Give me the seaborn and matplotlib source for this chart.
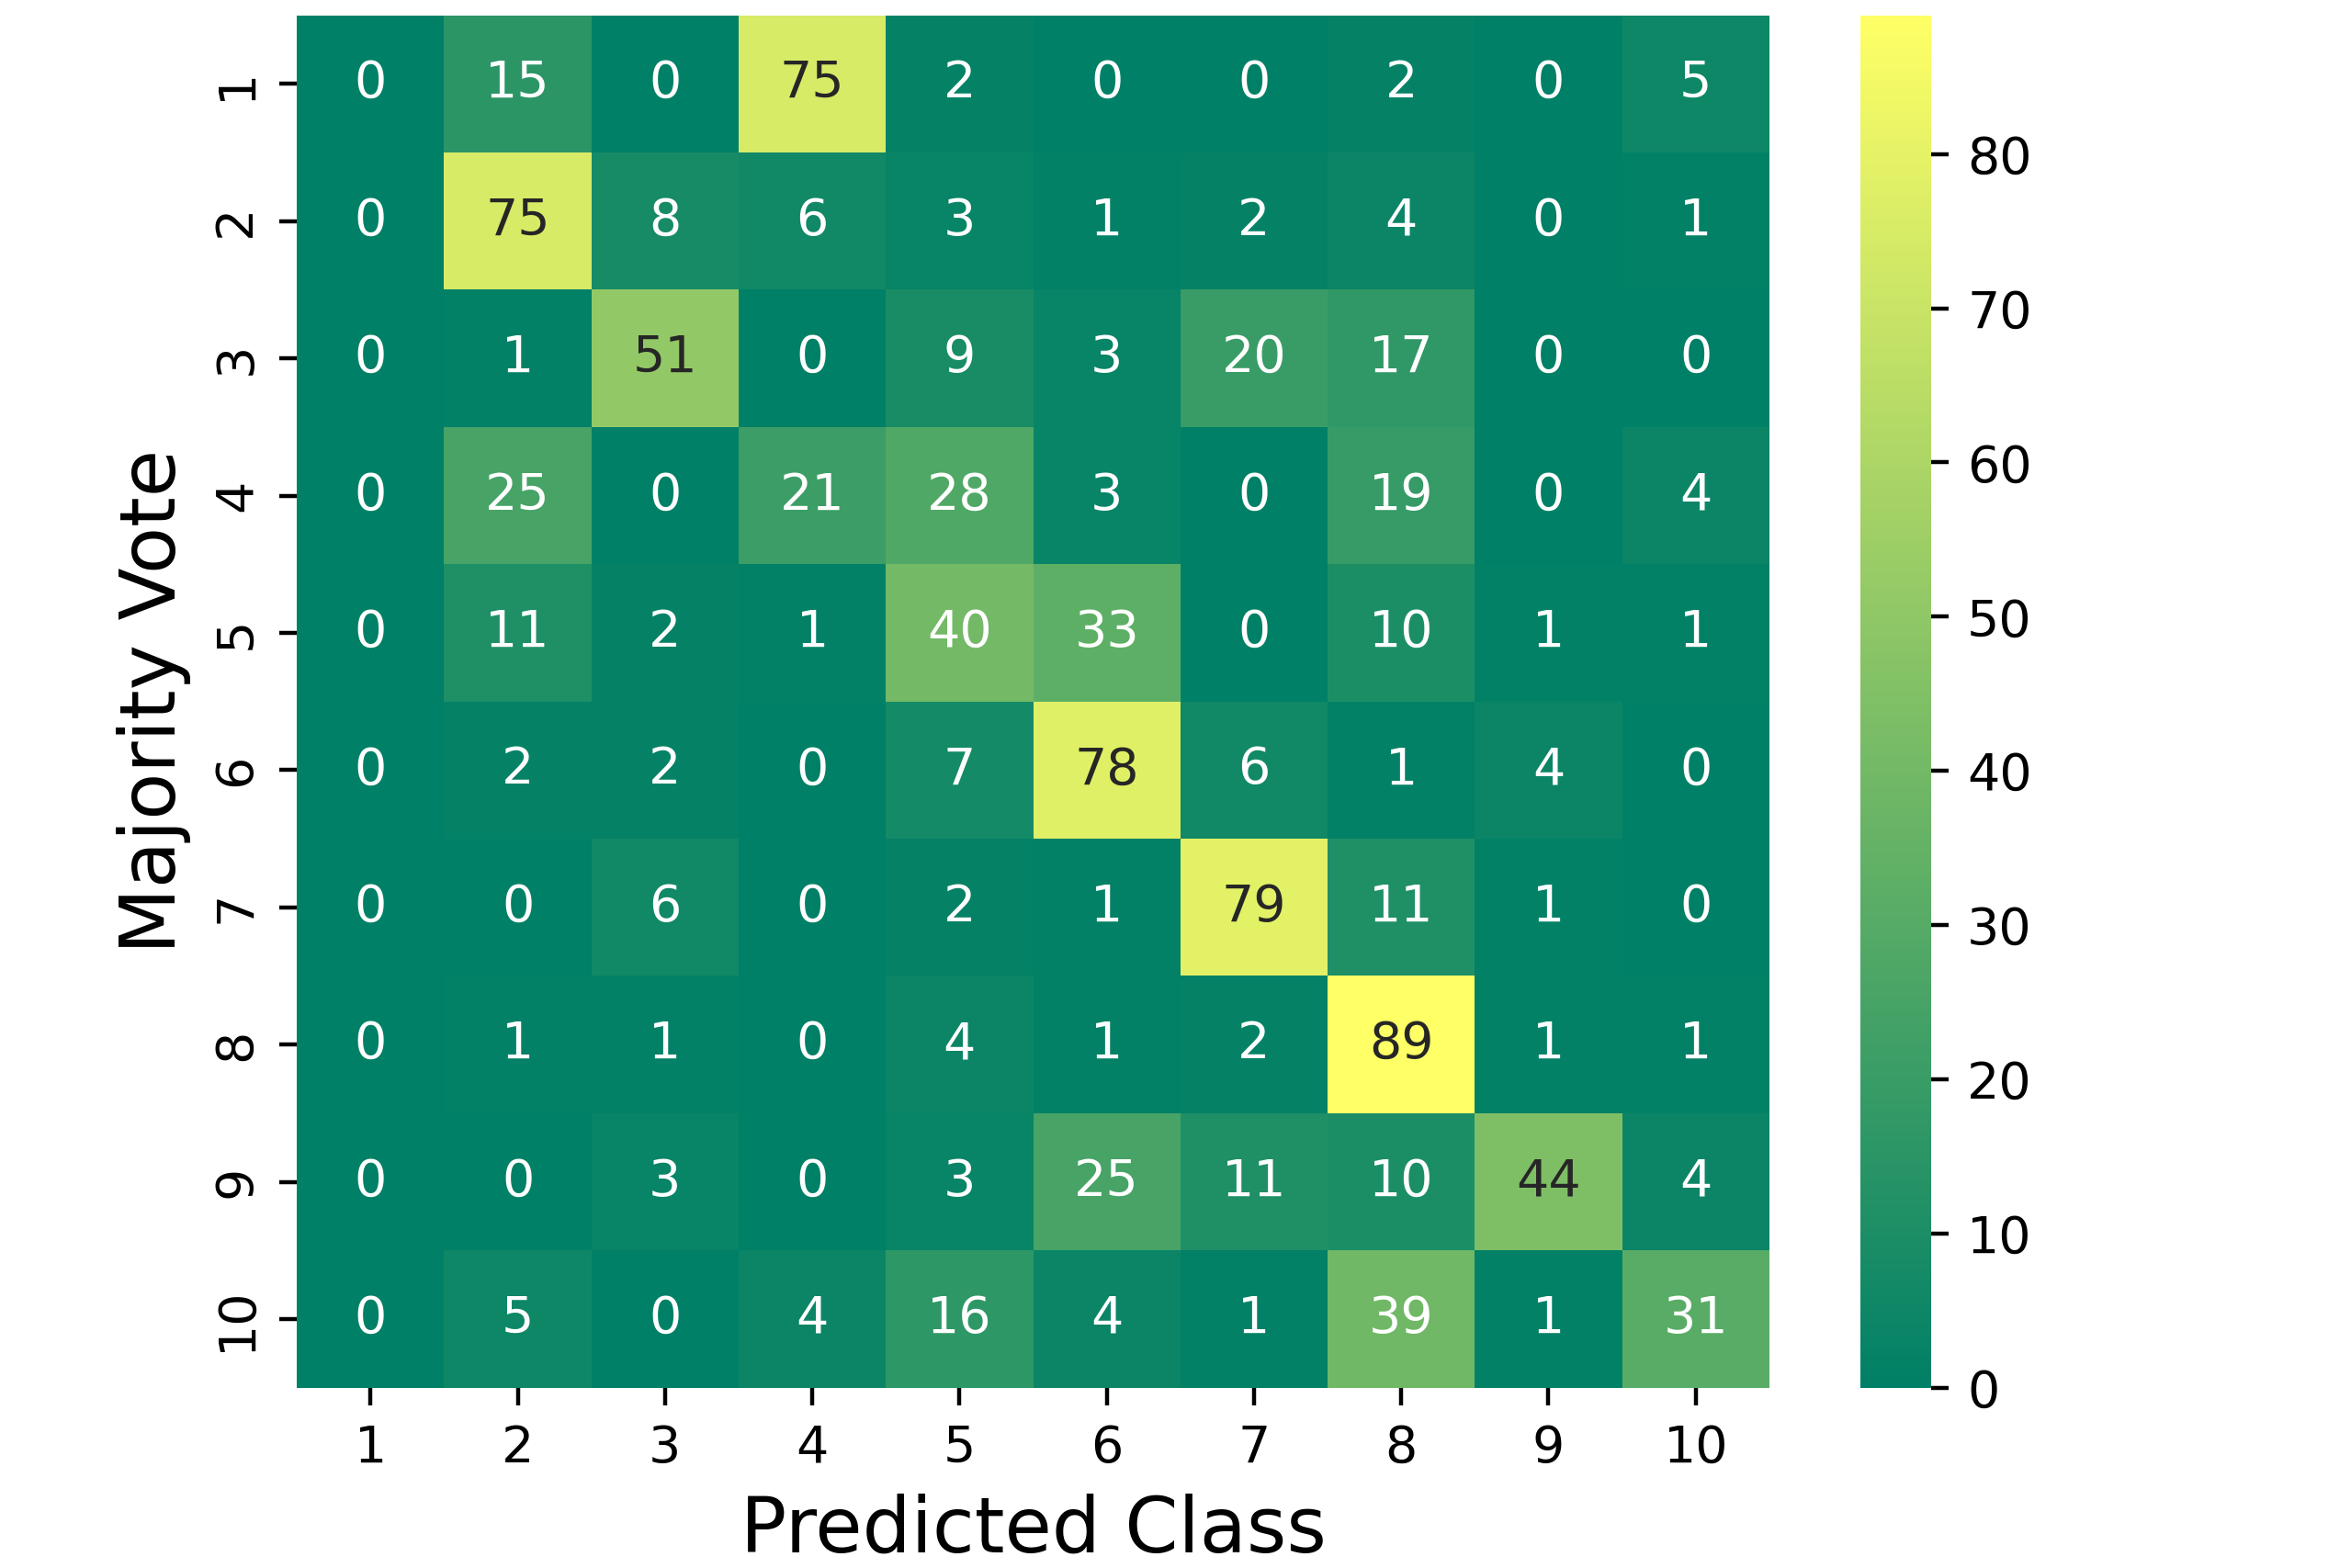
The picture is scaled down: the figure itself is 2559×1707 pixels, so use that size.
import matplotlib
matplotlib.use("Agg")
import matplotlib.pyplot as plt
import numpy as np
import pandas as pd
import seaborn as sns

# class labels
classes = ["1", "2", "3", "4", "5", "6", "7", "8", "9", "10"]

# rows = majority vote, columns = predicted class
row_1 = [0, 15, 0, 75, 2, 0, 0, 2, 0, 5]
row_2 = [0, 75, 8, 6, 3, 1, 2, 4, 0, 1]
row_3 = [0, 1, 51, 0, 9, 3, 20, 17, 0, 0]
row_4 = [0, 25, 0, 21, 28, 3, 0, 19, 0, 4]
row_5 = [0, 11, 2, 1, 40, 33, 0, 10, 1, 1]
row_6 = [0, 2, 2, 0, 7, 78, 6, 1, 4, 0]
row_7 = [0, 0, 6, 0, 2, 1, 79, 11, 1, 0]
row_8 = [0, 1, 1, 0, 4, 1, 2, 89, 1, 1]
row_9 = [0, 0, 3, 0, 3, 25, 11, 10, 44, 4]
row_10 = [0, 5, 0, 4, 16, 4, 1, 39, 1, 31]

cbar_ticks = [0, 10, 20, 30, 40, 50, 60, 70, 80]

df = pd.DataFrame([row_1, row_2, row_3, row_4, row_5, row_6, row_7, row_8, row_9, row_10],
                  index=classes, columns=classes)

fig = plt.figure(figsize=(2559 / 400, 1707 / 400), dpi=400)
ax = fig.add_axes([0.1263, 0.115, 0.7526 - 0.1263, 0.9903 - 0.115])
cax = fig.add_axes([0.7912, 0.115, 0.8215 - 0.7912, 0.9903 - 0.115])

sns.heatmap(df, annot=True, fmt="d", cmap="summer", ax=ax, cbar_ax=cax,
            annot_kws={"fontsize": 10})
ax.set_xlabel("Predicted Class", fontsize=15)
ax.set_ylabel("Majority Vote", fontsize=15)
ax.tick_params(axis="both", labelsize=10)
plt.setp(ax.get_yticklabels(), rotation=90, va="center")
plt.setp(ax.get_xticklabels(), rotation=0)
cax.set_yticks(cbar_ticks)
cax.tick_params(labelsize=10)

fig.savefig("out.png", dpi=400)
